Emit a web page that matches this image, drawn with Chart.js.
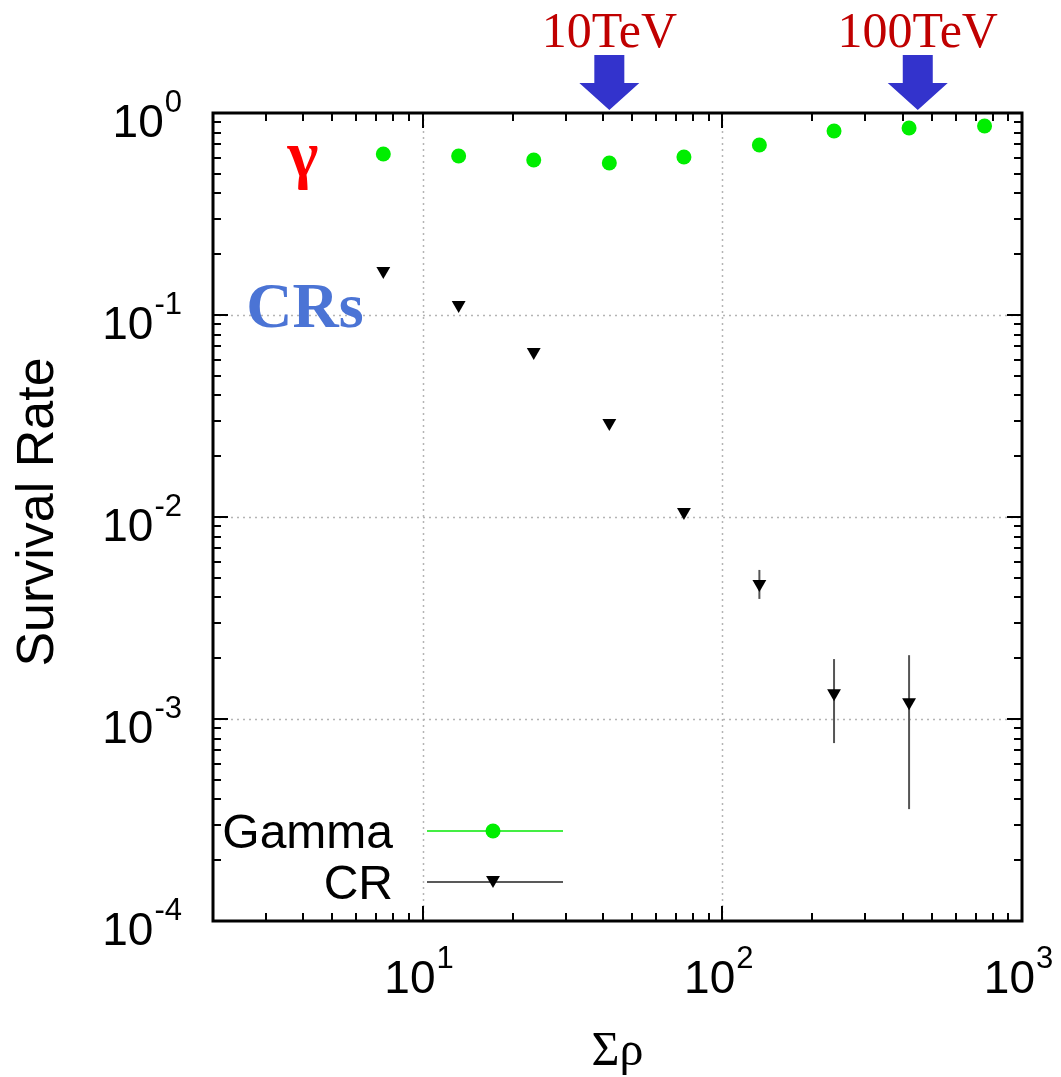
<!DOCTYPE html>
<html>
<head>
<meta charset="utf-8">
<script src="https://cdn.jsdelivr.net/npm/chart.js@4.4.0/dist/chart.umd.min.js"></script>
<style>
  html, body { margin: 0; padding: 0; background: #fff; }
  #wrap { width: 1061px; height: 1077px; }
</style>
</head>
<body>
<div id="wrap"><canvas id="myChart" width="1061" height="1077"></canvas></div>
<script>
/******** data */
const sumRho = [7.4, 13.2, 23.5, 42, 74.5, 133, 236, 420, 750];
const gammaRate = [0.627, 0.613, 0.585, 0.566, 0.606, 0.694, 0.815, 0.843, 0.862];

const crRho = [7.4, 13.2, 23.5, 42, 74.5, 133, 236, 420];
const crRate = [0.165, 0.112, 0.0656, 0.0292, 0.0106, 0.00466, 0.00134, 0.00121];
const crErrLow = [0.165, 0.112, 0.0656, 0.0292, 0.0106, 0.00393, 0.00076, 0.000358];
const crErrHigh = [0.165, 0.112, 0.0656, 0.0292, 0.0106, 0.00547, 0.00198, 0.00207];

const xTickValues = [10, 100, 1000];
const xTickPowers = ["1", "2", "3"];
const yTickValues = [1, 0.1, 0.01, 0.001, 0.0001];
const yTickPowers = ["0", "-1", "-2", "-3", "-4"];

const tevLabels = ["10TeV", "100TeV"];
const tevAt = [42, 449];

const green = "#00ee00";
const sans = "'Liberation Sans', Arial, sans-serif";
const serif = "'Liberation Serif', 'Times New Roman', serif";

/********* helpers */
function powerLabel(ctx, x, y, exp, align) {
  ctx.font = "46px " + sans;
  let w1 = ctx.measureText("10").width;
  ctx.font = "31px " + sans;
  let w2 = ctx.measureText(exp).width;
  let left = align === "right" ? x - w1 - w2 : x - (w1 + w2) / 2;
  ctx.textAlign = "left";
  ctx.textBaseline = "alphabetic";
  ctx.fillStyle = "#000";
  ctx.font = "46px " + sans;
  ctx.fillText("10", left, y);
  ctx.font = "31px " + sans;
  ctx.fillText(exp, left + w1 + 1, y - 25);
}

function minorValues(min, max) {
  let out = [];
  for (let d = Math.pow(10, Math.floor(Math.log10(min))); d < max; d *= 10) {
    for (let m = 1; m < 10; m++) {
      let v = m * d;
      if (v >= min * 0.999 && v <= max * 1.001) out.push({ v: v, major: m === 1 });
    }
  }
  return out;
}

/******* custom drawing: grid, ticks, frame, labels */
const gnuplotLook = {
  id: "gnuplotLook",
  beforeDatasetsDraw(chart) {
    const ctx = chart.ctx;
    const a = chart.chartArea;
    const xs = chart.scales.x, ys = chart.scales.y;
    ctx.save();
    ctx.strokeStyle = "#b4b4b4";
    ctx.lineWidth = 1.5;
    ctx.setLineDash([2, 4]);
    [10, 100].forEach((v) => {
      let px = Math.round(xs.getPixelForValue(v)) + 0.5;
      ctx.beginPath();
      ctx.moveTo(px, a.top);
      ctx.lineTo(px, a.bottom);
      ctx.stroke();
    });
    [0.1, 0.01, 0.001].forEach((v) => {
      let py = Math.round(ys.getPixelForValue(v)) + 0.5;
      ctx.beginPath();
      ctx.moveTo(a.left, py);
      ctx.lineTo(a.right, py);
      ctx.stroke();
    });
    ctx.setLineDash([]);

    // error bars on CR points
    ctx.strokeStyle = "#555";
    ctx.lineWidth = 2;
    for (let i = 0; i < crRho.length; i++) {
      if (crErrHigh[i] === crErrLow[i]) continue;
      let px = xs.getPixelForValue(crRho[i]);
      ctx.beginPath();
      ctx.moveTo(px, ys.getPixelForValue(crErrHigh[i]));
      ctx.lineTo(px, ys.getPixelForValue(crErrLow[i]));
      ctx.stroke();
    }
    ctx.restore();
  },
  afterDraw(chart) {
    const ctx = chart.ctx;
    const a = chart.chartArea;
    const xs = chart.scales.x, ys = chart.scales.y;
    ctx.save();

    // tick marks on all four sides
    ctx.strokeStyle = "#000";
    ctx.lineWidth = 2;
    minorValues(2, 1000).forEach((t) => {
      let px = Math.round(xs.getPixelForValue(t.v));
      let len = t.major ? 15 : 8;
      ctx.beginPath();
      ctx.moveTo(px, a.bottom);
      ctx.lineTo(px, a.bottom - len);
      ctx.moveTo(px, a.top);
      ctx.lineTo(px, a.top + len);
      ctx.stroke();
    });
    minorValues(0.0001, 1).forEach((t) => {
      let py = Math.round(ys.getPixelForValue(t.v));
      let len = t.major ? 15 : 8;
      ctx.beginPath();
      ctx.moveTo(a.left, py);
      ctx.lineTo(a.left + len, py);
      ctx.moveTo(a.right, py);
      ctx.lineTo(a.right - len, py);
      ctx.stroke();
    });

    // frame
    ctx.lineWidth = 3;
    ctx.strokeRect(a.left, a.top, a.right - a.left, a.bottom - a.top);

    // tick labels
    xTickValues.forEach((v, i) => {
      powerLabel(ctx, xs.getPixelForValue(v) - 4, a.bottom + 72, xTickPowers[i], "center");
    });
    yTickValues.forEach((v, i) => {
      powerLabel(ctx, 181, ys.getPixelForValue(v) + 24, yTickPowers[i], "right");
    });

    // axis titles
    ctx.fillStyle = "#000";
    ctx.font = "48px " + serif;
    ctx.textAlign = "center";
    ctx.fillText("\u03A3\u03C1", (a.left + a.right) / 2, 1065);
    ctx.save();
    ctx.translate(53, 512);
    ctx.rotate(-Math.PI / 2);
    ctx.font = "52px " + sans;
    ctx.fillText("Survival Rate", 0, 0);
    ctx.restore();

    // legend
    const rows = [
      { text: "Gamma", y: 831, color: "#44ee44", width: 2, ds: 0 },
      { text: "CR", y: 882, color: "#222", width: 1.5, ds: 1 },
    ];
    rows.forEach((r) => {
      ctx.font = "48px " + sans;
      ctx.textAlign = "right";
      ctx.fillStyle = "#000";
      ctx.fillText(r.text, 393, r.y + 17);
      ctx.strokeStyle = r.color;
      ctx.lineWidth = r.width;
      ctx.beginPath();
      ctx.moveTo(427, r.y);
      ctx.lineTo(563, r.y);
      ctx.stroke();
      const d = chart.data.datasets[r.ds];
      ctx.fillStyle = d.pointBackgroundColor;
      ctx.strokeStyle = d.pointBackgroundColor;
      Chart.helpers.drawPoint(ctx, {
        pointStyle: d.pointStyle,
        radius: d.pointRadius,
        rotation: d.pointRotation || 0,
        borderWidth: 0,
      }, 493, r.y + (r.ds === 1 ? -2 : 0));
    });

    // energy markers above the frame
    tevLabels.forEach((label, i) => {
      let cx = xs.getPixelForValue(tevAt[i]);
      ctx.fillStyle = "#c00000";
      ctx.font = "50px " + serif;
      ctx.textAlign = "center";
      ctx.fillText(label, cx, 47);
      ctx.fillStyle = "#3333cc";
      ctx.beginPath();
      ctx.moveTo(cx - 15, 55);
      ctx.lineTo(cx + 15, 55);
      ctx.lineTo(cx + 15, 83);
      ctx.lineTo(cx + 30, 83);
      ctx.lineTo(cx, 110);
      ctx.lineTo(cx - 30, 83);
      ctx.lineTo(cx - 15, 83);
      ctx.closePath();
      ctx.fill();
    });

    // curve labels
    ctx.textAlign = "center";
    ctx.fillStyle = "#ff0000";
    ctx.font = "bold 66px " + serif;
    ctx.fillText("\u03B3", 303, 176);
    ctx.fillStyle = "#4b74d5";
    ctx.font = "bold 64px " + serif;
    ctx.fillText("CRs", 305, 327);

    ctx.restore();
  },
};

const ctx = document.getElementById("myChart");
new Chart(ctx, {
  type: "scatter",
  data: {
    datasets: [
      {
        label: "Gamma",
        data: sumRho.map((x, i) => ({ x: x, y: gammaRate[i] })),
        pointStyle: "circle",
        pointRadius: 7.5,
        pointBackgroundColor: green,
        pointBorderWidth: 0,
        showLine: false,
      },
      {
        label: "CR",
        data: crRho.map((x, i) => ({ x: x, y: crRate[i] })),
        pointStyle: "triangle",
        pointRotation: 180,
        pointRadius: 8,
        pointBackgroundColor: "#000",
        pointBorderWidth: 0,
        showLine: false,
      },
    ],
  },
  options: {
    responsive: false,
    animation: false,
    devicePixelRatio: 1,
    layout: { padding: { left: 213, top: 113, right: 39, bottom: 156 } },
    plugins: { legend: { display: false }, tooltip: { enabled: false } },
    scales: {
      x: { type: "logarithmic", min: 2, max: 1000, display: false },
      y: { type: "logarithmic", min: 0.0001, max: 1, display: false },
    },
  },
  plugins: [gnuplotLook],
});
</script>
</body>
</html>
